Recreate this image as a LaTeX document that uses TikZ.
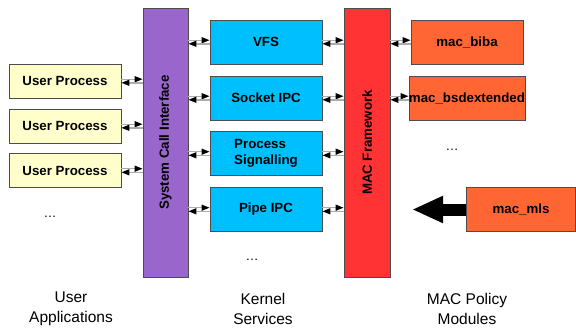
\documentclass[tikz,border=0pt]{standalone}
\usepackage{fontspec}
\setmainfont{Liberation Sans}
\usetikzlibrary{arrows.meta}
\definecolor{userFill}{RGB}{255,255,204}
\definecolor{sysFill}{RGB}{153,102,204}
\definecolor{kernFill}{RGB}{0,191,255}
\definecolor{macFill}{RGB}{255,51,51}
\definecolor{modFill}{RGB}{255,102,51}
\tikzset{
  boxBase/.style={draw=black!70, line width=0.8pt, inner sep=1pt,
    font=\fontsize{13.3}{16}\selectfont\bfseries},
  userBox/.style={boxBase, fill=userFill, minimum width=112pt, minimum height=34pt},
  kernBox/.style={boxBase, fill=kernFill, minimum width=112pt, minimum height=44pt},
  modBox/.style={boxBase, fill=modFill, minimum width=112pt, minimum height=44pt},
  % barras verticais (texto rodado)
  barBox/.style={boxBase, rotate=90, minimum width=269pt, minimum height=45pt},
  linkRight/.style={draw=gray!65, line width=1.4pt, -{Triangle[length=8pt, width=6pt, color=black]}},
  linkLeft/.style={draw=gray!65, line width=1.4pt, {Triangle[length=8pt, width=6pt, color=black]}-},
  bigArrow/.style={line width=12pt, -{Triangle[length=31pt, width=25pt]}},
  dotsText/.style={font=\fontsize{13}{16}\selectfont},
  groupText/.style={align=center, font=\fontsize{15.5}{20}\selectfont}
}
\begin{document}
\begin{tikzpicture}[x=1pt, y=-1pt]
  \useasboundingbox (0,0) rectangle (576,327);

  % --- Processos de usuario ---
  \node[userBox] (up1) at (65,81) {User Process};
  \node[userBox] (up2) at (65,126) {User Process};
  \node[userBox] (up3) at (65,170.5) {User Process};
  \node[dotsText] (userDots) at (50,217) {\dots};

  % --- Barras ---
  \node[barBox, fill=sysFill] (sysBar) at (165.5,142.5) {System Call Interface};
  \node[barBox, fill=macFill, minimum height=46pt] (macBar) at (367,142.5) {MAC Framework};

  % --- Servicos do kernel ---
  \node[kernBox] (vfsBox) at (266,42) {VFS};
  \node[kernBox] (sockBox) at (266,98) {Socket IPC};
  \node[kernBox, align=left] (sigBox) at (266,153.5) {Process\\Signalling};
  \node[kernBox] (pipeBox) at (266,209.5) {Pipe IPC};
  \node[dotsText] (kernDots) at (252,260) {\dots};

  % --- Modulos de politica ---
  \node[modBox] (bibaBox) at (467,42) {mac\_biba};
  \node[modBox, inner sep=0pt] (bsdBox) at (467,98) {mac\_bsdextended};
  \node[dotsText] (modDots) at (452,150) {\dots};
  \node[modBox, minimum width=109pt] (mlsBox) at (521,209.5) {mac\_mls};

  % Ligacoes: caixa a esquerda -> barra
  \foreach \src/\dst in {up1/sysBar, up2/sysBar, up3/sysBar,
      vfsBox/macBar, sockBox/macBar, sigBox/macBar, pipeBox/macBar} {
    \draw[linkRight] ([yshift=1.8pt]\src.east) -- ([yshift=1.8pt]\src.east -| \dst.north);
    \draw[linkLeft] ([yshift=-1.8pt]\src.east) -- ([yshift=-1.8pt]\src.east -| \dst.north);
  }
  % Ligacoes: barra -> caixa a direita
  \foreach \src/\dst in {sysBar/vfsBox, sysBar/sockBox, sysBar/sigBox, sysBar/pipeBox,
      macBar/bibaBox, macBar/bsdBox} {
    \draw[linkRight] ([yshift=1.8pt]\dst.west -| \src.south) -- ([yshift=1.8pt]\dst.west);
    \draw[linkLeft] ([yshift=-1.8pt]\dst.west -| \src.south) -- ([yshift=-1.8pt]\dst.west);
  }

  % Seta grande do mac_mls
  \coordinate (mlsTip) at (412,209.5);
  \draw[bigArrow] (mlsBox.west) -- (mlsTip);

  % --- Legendas ---
  \node[groupText] (userLabel) at (71,309) {User\\Applications};
  \node[groupText] (kernLabel) at (263,309) {Kernel\\Services};
  \node[groupText] (modLabel) at (467,309) {MAC Policy\\Modules};
\end{tikzpicture}
\end{document}
